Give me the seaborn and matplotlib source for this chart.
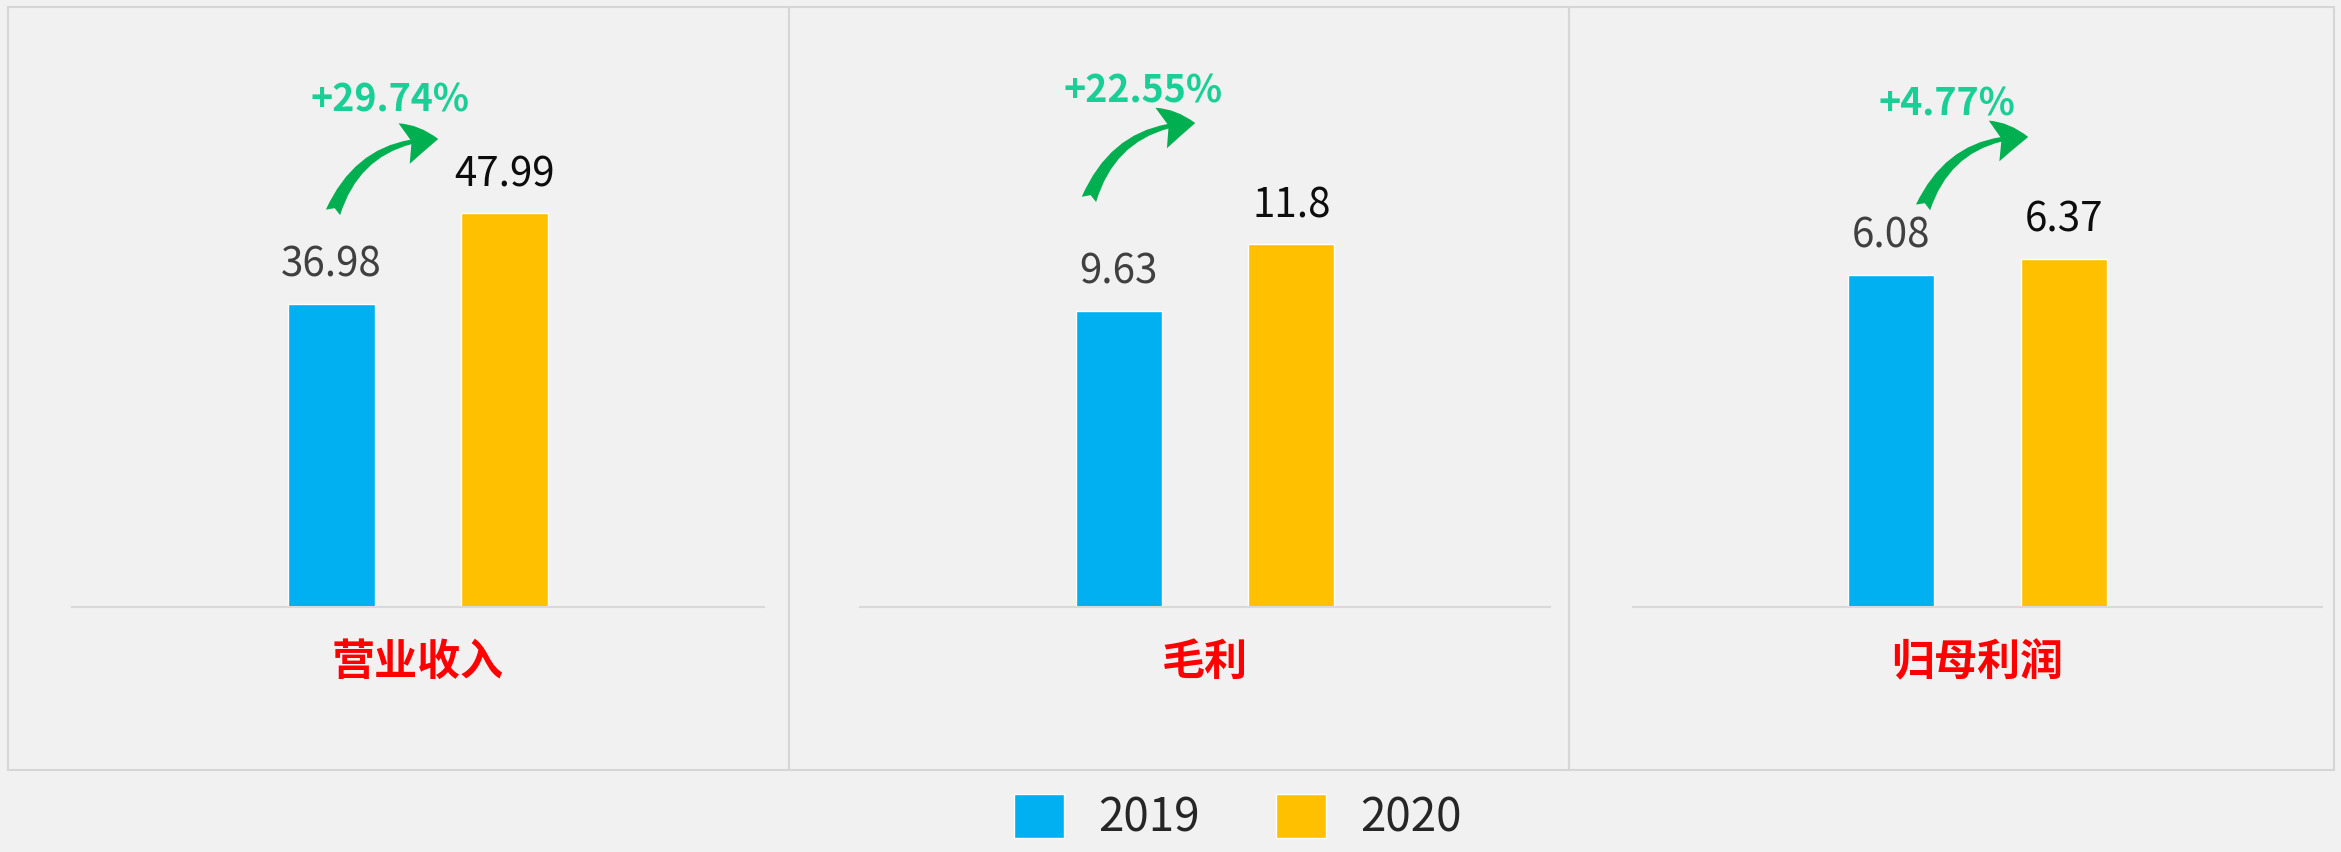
import pandas as pd
import matplotlib.pyplot as plt
import seaborn as sns
from matplotlib.patches import FancyArrowPatch, Rectangle
from matplotlib.lines import Line2D

# Data
categories = ['营业收入', '毛利', '归母利润']
years = ['2019', '2020']
values_2019 = [36.98, 9.63, 6.08]
values_2020 = [47.99, 11.8, 6.37]
growth_labels = ['+29.74%', '+22.55%', '+4.77%']

colors = ['#00B0F0', '#FFC000']
label_colors = ['#404040', '#0d0d0d']
bg = '#f1f1f1'

W, H = 2341, 852

def fx(x):
    return x / W

def fy(y):
    return 1 - y / H

sns.set_theme(style='white')
plt.rcParams['font.family'] = ['Noto Sans CJK SC', 'DejaVu Sans']

fig = plt.figure(figsize=(W / 100, H / 100), dpi=100, facecolor=bg)

# panel layout in pixels (left, right), baseline and top of value axis
panel_x = [(72, 764), (860, 1550), (1633, 2322)]
baseline_y = 607
top_y = 115
y_max = [60, 16, 9]

# growth arrows / text positions (pixels)
arrow_pos = [((332, 215), (441, 139)), ((1088, 202), (1198, 123)), ((1922, 210), (2031, 137))]
growth_pos = [(390, 100), (1143, 91), (1947, 104)]

axes = []
for i, cat in enumerate(categories):
    x0, x1 = panel_x[i]
    ax = fig.add_axes([fx(x0), fy(baseline_y), (x1 - x0) / W, (baseline_y - top_y) / H])
    ax.set_facecolor('none')
    df = pd.DataFrame({
        '指标': [cat, cat],
        '年份': years,
        '数值': [values_2019[i], values_2020[i]],
    })
    sns.barplot(data=df, x='指标', y='数值', hue='年份', palette=colors,
                width=0.8, gap=0.5, saturation=1, errorbar=None, ax=ax,
                legend=(i == 0))
    for j, container in enumerate(ax.containers):
        ax.bar_label(container, fmt='{:g}', padding=13, fontsize=29,
                     color=label_colors[j])
    ax.set_xlim(-0.8, 0.8)
    ax.set_ylim(0, y_max[i])
    ax.set_yticks([])
    ax.set_xlabel('')
    ax.set_ylabel('')
    for s in ['top', 'left', 'right']:
        ax.spines[s].set_visible(False)
    ax.spines['bottom'].set_color('#d9d9d9')
    ax.spines['bottom'].set_linewidth(1.5)
    ax.tick_params(axis='x', length=0, pad=24)
    for t in ax.get_xticklabels():
        t.set_color('#ff0000')
        t.set_fontsize(31)
        t.set_fontweight('bold')
    axes.append(ax)

    # growth arrow + percentage
    (ax0, ay0), (ax1, ay1) = arrow_pos[i]
    arrow = FancyArrowPatch((fx(ax0), fy(ay0)), (fx(ax1), fy(ay1)),
                            transform=fig.transFigure,
                            connectionstyle='arc3,rad=-0.35',
                            arrowstyle='fancy,head_length=0.45,head_width=0.55,tail_width=0.2',
                            mutation_scale=55, color='#00B050', lw=0)
    fig.add_artist(arrow)
    gx, gy = growth_pos[i]
    fig.text(fx(gx), fy(gy), growth_labels[i], ha='center', va='center',
             fontsize=27, fontweight='heavy', color='#19CF95')

# panel frames
fig.add_artist(Rectangle((fx(8), fy(770)), fx(2334) - fx(8), fy(7) - fy(770),
                         transform=fig.transFigure, fill=False,
                         edgecolor='#d6d6d6', lw=1.5))
for xd in [789, 1569]:
    fig.add_artist(Line2D([fx(xd), fx(xd)], [fy(770), fy(7)],
                          transform=fig.transFigure, color='#d6d6d6', lw=1.5))

# legend at the bottom
handles, labels = axes[0].get_legend_handles_labels()
axes[0].legend_.remove()
fig.legend(handles, labels, loc='center', bbox_to_anchor=(fx(1238), fy(818)),
           ncol=2, frameon=False, fontsize=33, handlelength=1.1,
           handleheight=1.1, handletextpad=0.75, columnspacing=1.65,
           borderpad=0)

fig.savefig('out.png', dpi=100, facecolor=bg)
